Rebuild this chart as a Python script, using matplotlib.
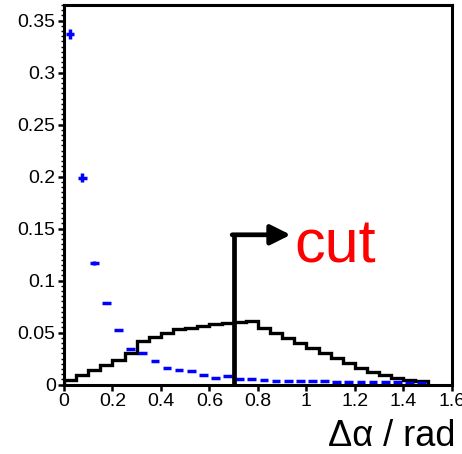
import numpy as np
import matplotlib
matplotlib.use("Agg")
import matplotlib.pyplot as plt
from matplotlib.ticker import MultipleLocator

plt.rcParams['font.family'] = ['Liberation Sans', 'DejaVu Sans']

# bin edges in delta alpha (rad), 0.05 wide
edges = np.arange(0, 1.5001, 0.05)
centers = edges[:-1] + 0.025

# black histogram
hist_black = [0.004, 0.009, 0.014, 0.019, 0.024, 0.030, 0.042, 0.0455, 0.0497, 0.053,
              0.054, 0.0565, 0.058, 0.059, 0.060, 0.061, 0.0545, 0.050, 0.045, 0.040,
              0.035, 0.030, 0.026, 0.021, 0.016, 0.012, 0.009, 0.006, 0.0045, 0.003]

# blue points with errors
blue_vals = [0.337, 0.199, 0.117, 0.078, 0.052, 0.034, 0.030, 0.023, 0.016, 0.0138,
             0.0128, 0.0087, 0.006, 0.008, 0.0055, 0.005, 0.004, 0.0038, 0.0035, 0.0032,
             0.003, 0.003, 0.0028, 0.0026, 0.0024, 0.0022, 0.002, 0.002, 0.0015, 0.001]
blue_errs = [0.005, 0.004, 0.002, 0.001, 0.0008] + [0.0] * 25

cut_x = 0.7

fig = plt.figure(figsize=(4.62, 4.54), dpi=100)
ax = fig.add_axes([0.1385, 0.153, 0.8395, 0.836])

ax.stairs(hist_black, edges, baseline=0, color='black', lw=2.4)
ax.errorbar(centers, blue_vals, xerr=0.018, yerr=blue_errs, fmt='none',
            ecolor='blue', elinewidth=2.5, capsize=0)

# cut marker
ax.plot([cut_x, cut_x], [0, 0.144], color='black', lw=3.4, solid_capstyle='butt')
ax.annotate('', xy=(0.935, 0.144), xytext=(cut_x - 0.006, 0.144),
            arrowprops=dict(arrowstyle='-|>,head_length=0.8,head_width=0.4',
                            mutation_scale=15, color='black', lw=3.4,
                            shrinkA=0, shrinkB=0))
ax.text(0.95, 0.117, 'cut', color='red', fontsize=44, va='baseline', ha='left')

ax.set_xlim(0, 1.6)
ax.set_ylim(0, 0.365)
ax.xaxis.set_major_locator(MultipleLocator(0.2))
ax.yaxis.set_major_locator(MultipleLocator(0.05))
ax.yaxis.set_minor_locator(MultipleLocator(0.005))
ax.xaxis.set_major_formatter(plt.FuncFormatter(lambda v, p: f'{v:g}'))
ax.yaxis.set_major_formatter(plt.FuncFormatter(lambda v, p: f'{v:g}'))

for s in ax.spines.values():
    s.set_linewidth(2.2)
ax.tick_params(which='major', direction='out', length=4, width=1.8,
               labelsize=14, pad=2, top=False, right=False)
ax.tick_params(which='minor', direction='out', length=2, width=1, top=False, right=False)
ax.tick_params(axis='x', which='minor', length=0)

fig.text(0.985, 0.017, 'Δα / rad', fontsize=26, ha='right', va='baseline')

fig.savefig('out.png', dpi=100)
